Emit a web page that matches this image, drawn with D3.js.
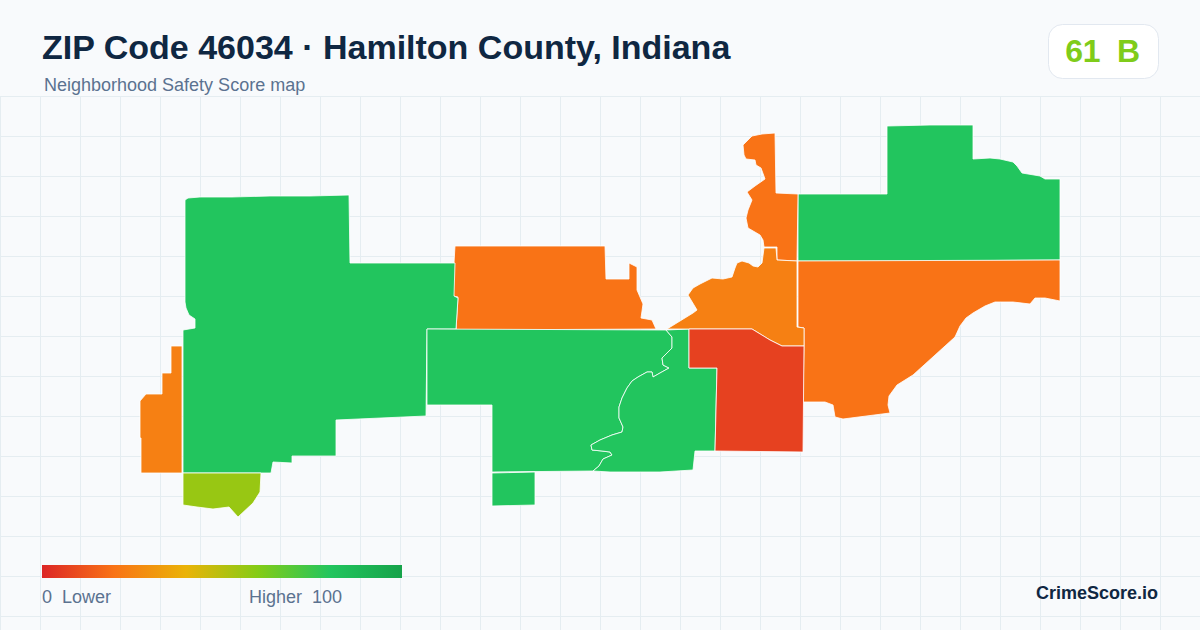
<!DOCTYPE html>
<html>
<head>
<meta charset="utf-8">
<script src="https://cdn.jsdelivr.net/npm/d3@7"></script>
<style>
  html, body { margin: 0; padding: 0; background: #f8fafc; }
  svg { display: block; font-family: "Liberation Sans", Arial, sans-serif; }
  text { white-space: pre; }
</style>
</head>
<body>
<script>
// Zone outlines as [x, y] in map units
var zoneWest = [[185,200],[188,198],[200,197],[232,197],[270,196],[310,196],[349,195],[350,263],[455,263],[454,296],[458,298],[456,329],[427,329],[426,416],[336,420],[336,456],[292,456],[292,463],[273,462],[271,473],[183,473],[183,330],[195,328],[195,319],[189,315],[186,308],[185,302]];
var zoneFarWest = [[171,346],[182,346],[182,473],[141,473],[141,438],[140,438],[140,401],[146,394],[162,394],[162,373],[171,373],[171,360]];
var zoneSouthWest = [[183,473],[261,473],[260,492],[253,503],[238,517],[229,507],[213,509],[197,507],[183,505]];
var zoneCentralNorth = [[455,246],[605,246],[606,279],[629,279],[629,263],[637,267],[637,290],[643,304],[641,318],[652,320],[656,329],[456,330],[458,297],[453,296],[454,263]];
var zoneCentral = [[427,329],[666,330],[672,337],[672,348],[662,358],[663,365],[669,368],[660,373],[653,377],[652,372],[647,372],[638,377],[632,381],[627,388],[622,398],[619,407],[619,418],[623,427],[622,432],[612,435],[600,440],[591,445],[592,450],[602,451],[610,452],[612,455],[603,459],[599,466],[593,471],[492,472],[492,405],[427,405]];
var zoneRiverEast = [[666,330],[689,329],[689,368],[717,368],[715,451],[695,451],[693,470],[660,472],[636,472],[610,472],[593,471],[599,466],[603,459],[612,455],[610,452],[602,451],[592,450],[591,445],[600,440],[612,435],[622,432],[623,427],[619,418],[619,407],[622,398],[627,388],[632,381],[638,377],[647,372],[652,372],[653,377],[660,373],[669,368],[663,365],[662,358],[672,348],[672,337]];
var zoneSouthPocket = [[492,473],[535,472],[535,505],[492,506]];
var zoneNorth = [[775,133],[762,134],[752,136],[743,145],[744,155],[746,159],[755,160],[756,165],[761,168],[765,179],[755,186],[747,192],[752,200],[748,210],[746,218],[748,228],[760,235],[763,240],[764,247],[777,247],[777,260],[797,261],[798,194],[776,193]];
var zoneMiddle = [[764,248],[776,248],[777,260],[797,261],[797,327],[804,328],[804,346],[782,346],[770,340],[752,329],[667,329],[693,313],[697,310],[688,295],[693,288],[700,284],[712,278],[723,279],[732,277],[735,268],[737,263],[742,261],[749,263],[753,266],[758,267],[762,263]];
var zoneRed = [[689,329],[752,329],[770,340],[782,346],[804,346],[803,452],[715,451],[717,368],[689,368]];
var zoneEast = [[798,261],[1060,260],[1060,301],[1045,298],[1035,298],[1030,304],[1013,302],[995,302],[985,306],[973,313],[966,318],[960,326],[955,337],[913,375],[897,385],[889,396],[888,405],[890,413],[843,419],[835,417],[833,405],[825,402],[803,402],[804,346],[804,328],[798,327]];
var zoneNorthEast = [[798,194],[887,194],[887,126],[930,125],[973,125],[973,159],[990,158],[1000,159],[1013,162],[1017,166],[1022,173],[1040,176],[1045,179],[1060,179],[1060,260],[928,261],[798,261]];

var zoneShapes = [zoneNorthEast, zoneEast, zoneNorth, zoneCentralNorth, zoneWest, zoneFarWest, zoneSouthWest, zoneCentral, zoneRiverEast, zoneSouthPocket, zoneMiddle, zoneRed];
var zoneScores = [80, 20, 20, 20, 80, 24, 56, 80, 80, 80, 24, 7];

var scoreStops = [0, 20, 40, 60, 80, 100];
var scoreColors = ["#dc2626", "#f97316", "#eab308", "#84cc16", "#22c55e", "#16a34a"];

var titleText = "ZIP Code 46034 · Hamilton County, Indiana";
var subtitleText = "Neighborhood Safety Score map";
var overallScore = 61;
var overallGrade = "B";
var legendLow = "0  Lower";
var legendHigh = "Higher  100";
var brandText = "CrimeScore.io";

var svgWidth = 1200;
var svgHeight = 630;

var svg = d3.select("body")
    .append("svg")
    .attr("width", svgWidth)
    .attr("height", svgHeight);

svg.append("rect")
    .attr("width", svgWidth)
    .attr("height", svgHeight)
    .attr("fill", "#f8fafc");

// Background grid
var gridTop = 96;
var gridGroup = svg.append("g")
    .attr("stroke", "#e5edf1")
    .attr("stroke-width", 1);

gridGroup.selectAll(".v")
    .data(d3.range(0, svgWidth, 40))
    .enter()
    .append("line")
    .attr("x1", d => d + 0.5)
    .attr("x2", d => d + 0.5)
    .attr("y1", gridTop)
    .attr("y2", svgHeight);

gridGroup.selectAll(".h")
    .data(d3.range(gridTop, svgHeight, 40))
    .enter()
    .append("line")
    .attr("x1", 0)
    .attr("x2", svgWidth)
    .attr("y1", d => d + 0.5)
    .attr("y2", d => d + 0.5);

// Map
var colorScale = d3.scaleLinear()
    .domain(scoreStops)
    .range(scoreColors);

var mapX = d3.scaleLinear().domain([0, 1200]).range([0, svgWidth]);
var mapY = d3.scaleLinear().domain([0, 630]).range([0, svgHeight]);

var zoneLine = d3.line()
    .x(d => mapX(d[0]))
    .y(d => mapY(d[1]))
    .curve(d3.curveLinearClosed);

svg.append("g")
    .selectAll("path")
    .data(zoneShapes)
    .enter()
    .append("path")
    .attr("d", zoneLine)
    .attr("fill", (d, i) => colorScale(zoneScores[i]))
    .attr("stroke", "#ffffff")
    .attr("stroke-width", 0.8)
    .attr("stroke-linejoin", "round");

// Header
svg.append("text")
    .attr("x", 42)
    .attr("y", 59)
    .attr("font-size", 34)
    .attr("font-weight", 700)
    .attr("fill", "#0f2742")
    .text(titleText);

svg.append("text")
    .attr("x", 44)
    .attr("y", 91)
    .attr("font-size", 18)
    .attr("fill", "#5b7290")
    .text(subtitleText);

svg.append("rect")
    .attr("x", 1048.5)
    .attr("y", 24.5)
    .attr("width", 110)
    .attr("height", 54)
    .attr("rx", 14)
    .attr("fill", "#ffffff")
    .attr("stroke", "#e2e8f0");

svg.append("text")
    .attr("x", 1102.5)
    .attr("y", 62)
    .attr("text-anchor", "middle")
    .attr("font-size", 32)
    .attr("font-weight", 700)
    .attr("letter-spacing", -0.4)
    .attr("fill", colorScale(overallScore))
    .text(overallScore + "  " + overallGrade);

// Legend
var legendScale = d3.scaleLinear().domain([0, 100]).range([42, 402]);

var gradient = svg.append("defs")
    .append("linearGradient")
    .attr("id", "scoreGradient");

gradient.selectAll("stop")
    .data(scoreStops)
    .enter()
    .append("stop")
    .attr("offset", d => d + "%")
    .attr("stop-color", d => colorScale(d));

svg.append("rect")
    .attr("x", legendScale(0))
    .attr("y", 565)
    .attr("width", legendScale(100) - legendScale(0))
    .attr("height", 13)
    .attr("fill", "url(#scoreGradient)");

svg.append("text")
    .attr("x", 42)
    .attr("y", 603)
    .attr("font-size", 18)
    .attr("fill", "#5b7290")
    .text(legendLow);

svg.append("text")
    .attr("x", 249)
    .attr("y", 603)
    .attr("font-size", 18)
    .attr("fill", "#5b7290")
    .text(legendHigh);

svg.append("text")
    .attr("x", 1158)
    .attr("y", 599)
    .attr("text-anchor", "end")
    .attr("font-size", 18)
    .attr("font-weight", 700)
    .attr("fill", "#0f2742")
    .text(brandText);
</script>
</body>
</html>
